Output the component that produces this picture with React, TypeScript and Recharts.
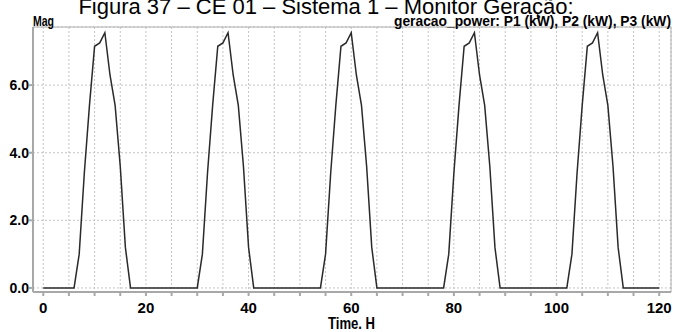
import React from 'react';
import { LineChart, Line, XAxis, YAxis, CartesianGrid, ReferenceLine } from 'recharts';

// hourly generation, 5 days (hour 0 .. 120)
const geracao = [
  0, 0, 0, 0, 0, 0, 0, 1.0, 3.4, 5.4, 7.15, 7.25, 7.55, 6.3, 5.4, 3.6, 1.2, 0, 0, 0, 0, 0, 0, 0,
  0, 0, 0, 0, 0, 0, 0, 1.0, 3.4, 5.4, 7.15, 7.25, 7.55, 6.3, 5.4, 3.6, 1.2, 0, 0, 0, 0, 0, 0, 0,
  0, 0, 0, 0, 0, 0, 0, 1.0, 3.4, 5.4, 7.15, 7.25, 7.55, 6.3, 5.4, 3.6, 1.2, 0, 0, 0, 0, 0, 0, 0,
  0, 0, 0, 0, 0, 0, 0, 1.0, 3.4, 5.4, 7.15, 7.25, 7.55, 6.3, 5.4, 3.6, 1.2, 0, 0, 0, 0, 0, 0, 0,
  0, 0, 0, 0, 0, 0, 0, 1.0, 3.4, 5.4, 7.15, 7.25, 7.55, 6.3, 5.4, 3.6, 1.2, 0, 0, 0, 0, 0, 0, 0,
  0,
];

const xTicks = [0, 5, 10, 15, 20, 25, 30, 35, 40, 45, 50, 55, 60, 65, 70, 75, 80, 85, 90, 95, 100, 105, 110, 115, 120];
const xLabels = [0, 20, 40, 60, 80, 100, 120];
const yTicks = [0, 2, 4, 6];

const X_DOMAIN: [number, number] = [-2, 122.3];
const Y_DOMAIN: [number, number] = [-0.12, 7.72];

const data = geracao.map((p, i) => ({ t: i, p }));

const ARIAL = '"Liberation Sans", Arial, sans-serif';

export default function App() {
  return (
    <div style={{ position: 'absolute', left: 0, top: 0, width: 673, height: 332, background: '#fff' }}>
      <LineChart width={673} height={332} data={data} margin={{ top: 27, right: 2, bottom: 0, left: 0 }}>
        <CartesianGrid stroke="#c4c4c4" strokeDasharray="2 2" />
        <XAxis
          dataKey="t"
          type="number"
          domain={X_DOMAIN}
          ticks={xTicks}
          allowDataOverflow
          height={40}
          tickSize={4}
          tickMargin={6}
          stroke="#a8a8a8"
          strokeWidth={2}
          tick={{ fill: '#000', fontFamily: ARIAL, fontWeight: 'bold', fontSize: 15 }}
          tickFormatter={(v: number) => (xLabels.includes(v) ? String(v) : '')}
        />
        <YAxis
          type="number"
          domain={Y_DOMAIN}
          ticks={yTicks}
          allowDataOverflow
          width={33}
          tickSize={4}
          tickMargin={0}
          stroke="#a8a8a8"
          strokeWidth={2}
          tick={{ fill: '#000', fontFamily: ARIAL, fontWeight: 'bold', fontSize: 14 }}
          tickFormatter={(v: number) => v.toFixed(1)}
        />
        <ReferenceLine y={Y_DOMAIN[1]} stroke="#b0b0b0" strokeWidth={1} />
        <ReferenceLine x={X_DOMAIN[1]} stroke="#b0b0b0" strokeWidth={1} />
        <Line
          type="linear"
          dataKey="p"
          stroke="#2a2a2a"
          strokeWidth={1.5}
          dot={false}
          isAnimationActive={false}
        />
      </LineChart>
      <svg width={673} height={332} style={{ position: 'absolute', left: 0, top: 0, pointerEvents: 'none' }}>
        <text x={326} y={14} textAnchor="middle" fontFamily={ARIAL} fontSize={22} fill="#000">
          Figura 37 – CE 01 – Sistema 1 – Monitor Geração:
        </text>
        <text x={33} y={25.5} fontFamily={ARIAL} fontWeight="bold" fontSize={14} fill="#000"
          textLength={21} lengthAdjust="spacingAndGlyphs">
          Mag
        </text>
        <text x={394} y={25.5} fontFamily={ARIAL} fontWeight="bold" fontSize={14} fill="#000"
          textLength={277} lengthAdjust="spacingAndGlyphs">
          geracao_power:  P1 (kW),  P2 (kW),  P3 (kW)
        </text>
        <text x={328} y={329} fontFamily={ARIAL} fontWeight="bold" fontSize={16} fill="#000"
          textLength={47} lengthAdjust="spacingAndGlyphs">
          Time. H
        </text>
      </svg>
    </div>
  );
}
